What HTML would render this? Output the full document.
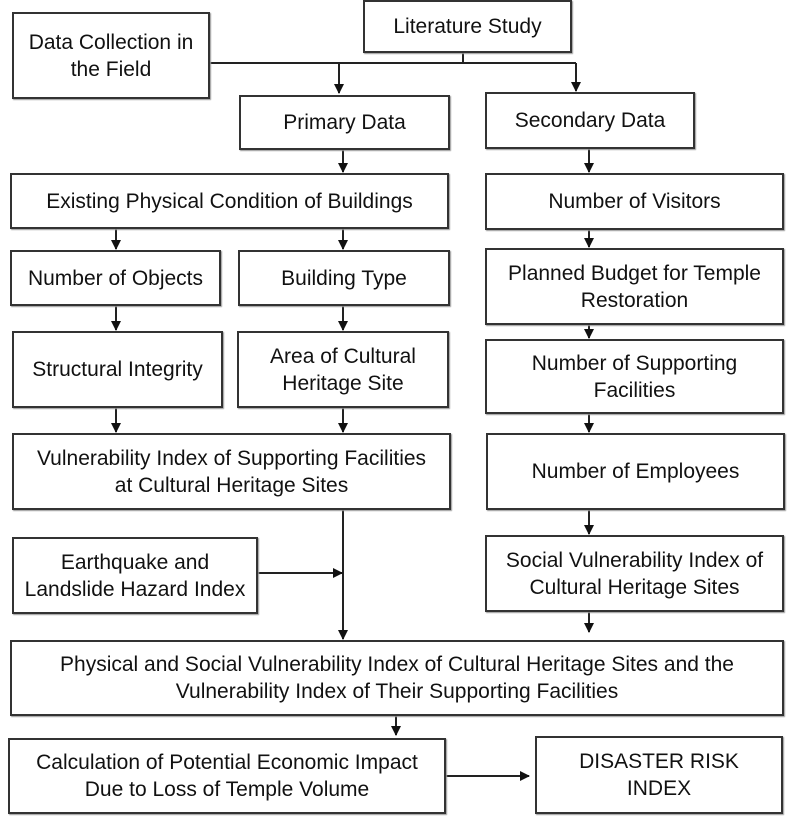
<!DOCTYPE html>
<html><head><meta charset="utf-8"><style>
body{margin:0;width:794px;height:830px;background:#fff;position:relative;overflow:hidden;font-family:"Liberation Sans",sans-serif;color:#111}
.b{position:absolute;box-sizing:border-box;border:2px solid #333;display:flex;align-items:center;justify-content:center;text-align:center;font-size:21px;line-height:27px;box-shadow:1px 1px 1px #999;background:#fff;white-space:nowrap}
svg{position:absolute;left:0;top:0}
</style></head><body>
<svg width="794" height="830">
<defs><marker id="a" markerWidth="10" markerHeight="10" refX="9" refY="5" orient="auto" markerUnits="userSpaceOnUse"><path d="M0,0L10,5L0,10z" fill="#111"/></marker></defs>
<g stroke="#222" stroke-width="2" fill="none">
<path d="M209 63H576M463 52V63"/>
<path d="M339 63V93" marker-end="url(#a)"/>
<path d="M576 63V91" marker-end="url(#a)"/>
<path d="M343 149V172" marker-end="url(#a)"/>
<path d="M589 149V172" marker-end="url(#a)"/>
<path d="M116 228V249" marker-end="url(#a)"/>
<path d="M343 228V249" marker-end="url(#a)"/>
<path d="M589 229V247" marker-end="url(#a)"/>
<path d="M116 305V330" marker-end="url(#a)"/>
<path d="M343 305V330" marker-end="url(#a)"/>
<path d="M589 324V338" marker-end="url(#a)"/>
<path d="M116 407V432" marker-end="url(#a)"/>
<path d="M343 407V432" marker-end="url(#a)"/>
<path d="M589 413V432" marker-end="url(#a)"/>
<path d="M589 509V534" marker-end="url(#a)"/>
<path d="M589 611V632" marker-end="url(#a)"/>
<path d="M343 509V639" marker-end="url(#a)"/>
<path d="M257 573H342" marker-end="url(#a)"/>
<path d="M396 715V735" marker-end="url(#a)"/>
<path d="M445 776H529" marker-end="url(#a)"/>
</g></svg>
<div class="b" style="left:363px;top:0;width:209px;height:53px">Literature Study</div>
<div class="b" style="left:12px;top:12px;width:198px;height:87px">Data Collection in<br>the Field</div>
<div class="b" style="left:239px;top:95px;width:211px;height:55px">Primary Data</div>
<div class="b" style="left:485px;top:92px;width:210px;height:57px">Secondary Data</div>
<div class="b" style="left:10px;top:173px;width:439px;height:56px">Existing Physical Condition of Buildings</div>
<div class="b" style="left:485px;top:173px;width:299px;height:57px">Number of Visitors</div>
<div class="b" style="left:10px;top:250px;width:211px;height:56px">Number of Objects</div>
<div class="b" style="left:238px;top:250px;width:212px;height:56px">Building Type</div>
<div class="b" style="left:485px;top:248px;width:299px;height:77px">Planned Budget for Temple<br>Restoration</div>
<div class="b" style="left:12px;top:331px;width:211px;height:77px">Structural Integrity</div>
<div class="b" style="left:237px;top:331px;width:212px;height:77px">Area of Cultural<br>Heritage Site</div>
<div class="b" style="left:485px;top:339px;width:299px;height:75px">Number of Supporting<br>Facilities</div>
<div class="b" style="left:12px;top:433px;width:439px;height:77px">Vulnerability Index of Supporting Facilities<br>at Cultural Heritage Sites</div>
<div class="b" style="left:486px;top:433px;width:299px;height:77px">Number of Employees</div>
<div class="b" style="left:12px;top:537px;width:246px;height:77px">Earthquake and<br>Landslide Hazard Index</div>
<div class="b" style="left:485px;top:535px;width:299px;height:77px">Social Vulnerability Index of<br>Cultural Heritage Sites</div>
<div class="b" style="left:10px;top:640px;width:774px;height:76px">Physical and Social Vulnerability Index of Cultural Heritage Sites and the<br>Vulnerability Index of Their Supporting Facilities</div>
<div class="b" style="left:8px;top:738px;width:438px;height:76px">Calculation of Potential Economic Impact<br>Due to Loss of Temple Volume</div>
<div class="b" style="left:535px;top:736px;width:248px;height:78px">DISASTER RISK<br>INDEX</div>
</body></html>
